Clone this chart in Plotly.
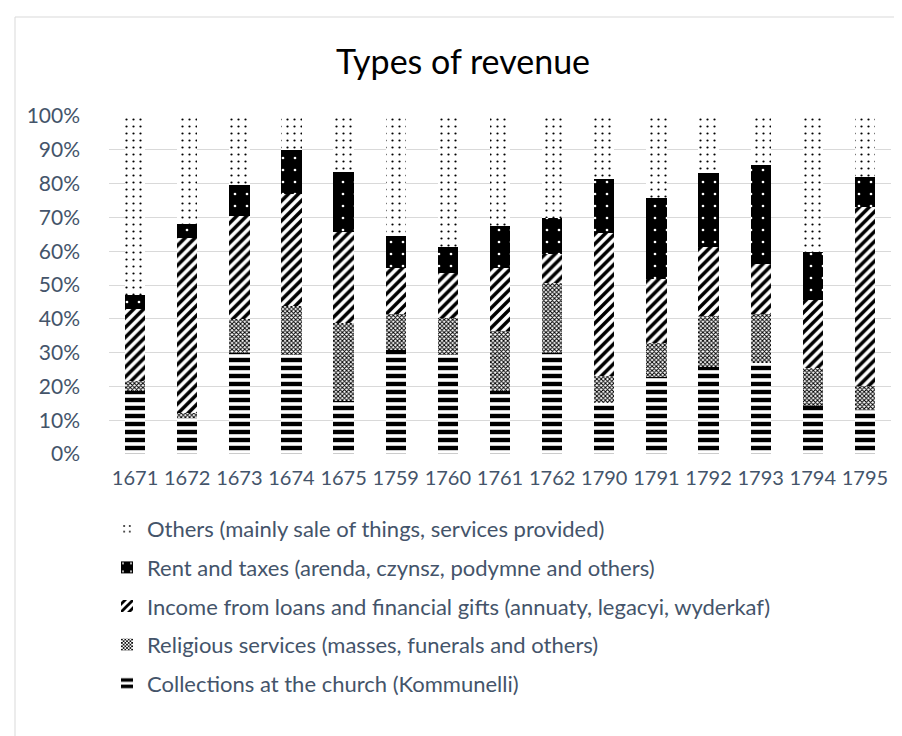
import plotly.graph_objects as go

years = ["1671", "1672", "1673", "1674", "1675", "1759", "1760", "1761",
         "1762", "1790", "1791", "1792", "1793", "1794", "1795"]

collections = [18.5, 10.6, 30.0, 29.4, 15.6, 30.9, 29.4, 18.5, 29.9, 15.1, 22.7, 25.7, 26.9, 14.1, 13.1]
religious = [3.0, 1.4, 10.0, 14.3, 23.2, 10.5, 10.8, 17.8, 20.7, 7.9, 10.1, 15.2, 14.5, 11.3, 6.9]
income = [21.5, 52.0, 30.5, 33.3, 26.9, 13.6, 13.3, 18.7, 8.7, 42.4, 19.1, 20.3, 14.8, 20.3, 53.1]
rent = [4.0, 4.0, 9.0, 13.0, 17.7, 9.6, 7.6, 12.4, 10.5, 16.1, 23.8, 21.9, 29.2, 14.1, 8.8]
others = [53.0, 32.0, 20.5, 10.0, 16.6, 35.4, 38.9, 32.6, 30.2, 18.5, 24.3, 16.9, 14.6, 40.2, 18.1]

names = [
    "Collections at the church (Kommunelli)",
    "Religious services (masses, funerals and others)",
    "Income from loans and financial gifts (annuaty, legacyi, wyderkaf)",
    "Rent and taxes (arenda, czynsz, podymne and others)",
    "Others (mainly sale of things, services provided)",
]
series = [collections, religious, income, rent, others]

patterns = [
    dict(shape="-", fgcolor="black", bgcolor="white", size=8, solidity=0.55, fgopacity=1, fillmode="overlay"),
    dict(shape="x", fgcolor="black", bgcolor="white", size=3, solidity=0.55, fgopacity=1, fillmode="overlay"),
    dict(shape="/", fgcolor="black", bgcolor="white", size=7, solidity=0.5, fgopacity=1, fillmode="overlay"),
    dict(shape=".", fgcolor="white", bgcolor="black", size=12, solidity=0.04, fgopacity=1, fillmode="overlay"),
    dict(shape=".", fgcolor="black", bgcolor="white", size=7, solidity=0.08, fgopacity=1, fillmode="overlay"),
]
base_colors = ["white", "white", "white", "black", "white"]

FONT = "Lato"
TXT = "#44546A"

fig = go.Figure()
n = len(series)
for i, (nm, vals) in enumerate(zip(names, series)):
    fig.add_trace(go.Bar(
        x=years, y=[v / 100 for v in vals], name=nm,
        legendgroup=f"g{i}", legendrank=n - i,
        marker=dict(color=base_colors[i], pattern=patterns[i], line=dict(width=0)),
    ))

W, H = 902, 736
L, R, T, B = 101, 19, 108, 290
pw, ph = W - L - R, H - T - B

def px(x):
    return (x - L) / pw

def py(y):
    return (H - B - y) / ph

fig.update_layout(
    width=W, height=H,
    margin=dict(l=L, r=R, t=T, b=B, autoexpand=False),
    barmode="stack",
    bargap=0.61,
    paper_bgcolor="white",
    plot_bgcolor="white",
    title=dict(text="Types of revenue", x=455 / W, xanchor="center",
               y=1 - 54 / H, yanchor="middle",
               font=dict(family=FONT, size=34, color="black")),
    font=dict(family=FONT, color=TXT),
    legend=dict(orientation="v", traceorder="grouped", x=px(99), xanchor="left",
                y=py(500), yanchor="top", tracegroupgap=7,
                font=dict(family=FONT, size=22, color=TXT),
                bgcolor="rgba(0,0,0,0)"),
    xaxis=dict(type="category", showgrid=False, showline=False, zeroline=False,
               tickfont=dict(family=FONT, size=20, color=TXT), ticklabelstandoff=10),
    yaxis=dict(range=[0, 1], dtick=0.1, tickformat=".0%", showgrid=True,
               gridcolor="#D9D9D9", gridwidth=1, zeroline=False, showline=False,
               tickfont=dict(family=FONT, size=21, color=TXT), ticklabelstandoff=28),
    shapes=[dict(type="rect", xref="paper", yref="paper",
                 x0=px(7), x1=px(899), y0=py(735), y1=py(9),
                 line=dict(color="#D9D9D9", width=1), fillcolor="rgba(0,0,0,0)",
                 layer="below")],
)

fig.write_html("out.html")
